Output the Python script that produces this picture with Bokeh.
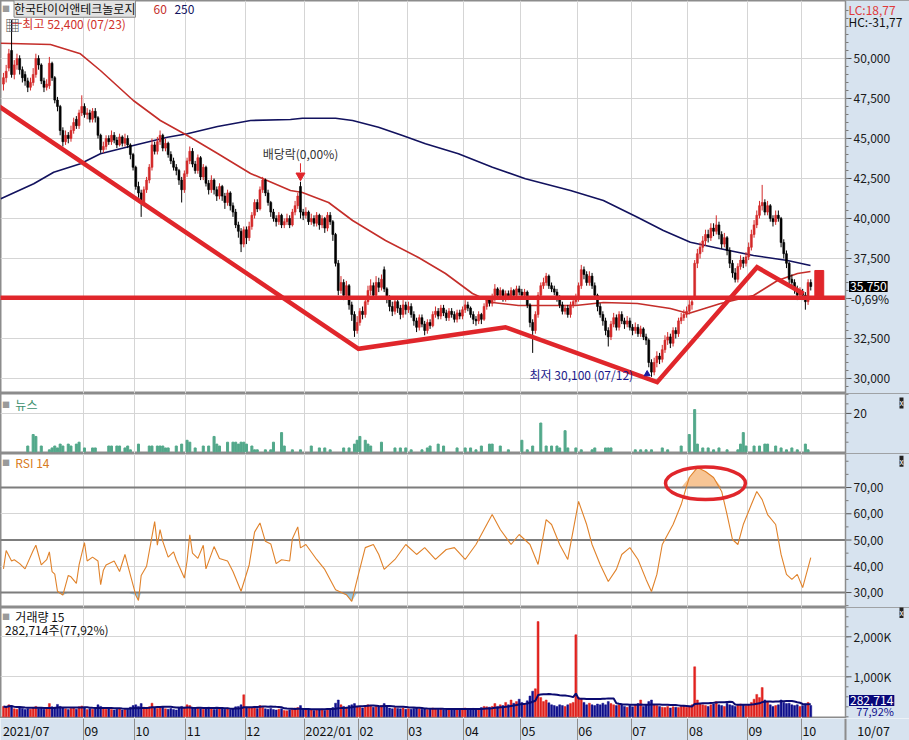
import numpy as np
import pandas as pd
from bokeh.plotting import figure
from bokeh.layouts import column
from bokeh.models import ColumnDataSource, FixedTicker, Span, Label, Range1d, BoxAnnotation
from bokeh.embed import file_html
from bokeh.resources import INLINE

FONT = "Noto Sans CJK KR"

# ---------------- data (prices in hundreds of KRW, volume in thousands) -------------
opens = [
 484,488,494,505,490,496,500,493,490,486, 482,485,490,500,496,486,482,483,497,488,
 474,470,455,448,452,450,455,462,458,466, 470,465,466,462,467,463,452,443,445,450,
 448,452,449,446,451,447,450,446,440,432, 420,416,410,418,424,432,446,442,448,452,
 444,447,440,436,432,430,424,418,428,436, 442,434,430,438,426,432,422,418,424,418,
 414,420,414,410,416,408,404,396,392,384, 393,388,395,402,410,406,418,424,416,410,
 404,400,398,402,396,398,400,396,404,408, 420,404,402,404,398,400,397,402,396,400,
 394,402,398,390,372,355,360,352,358,346, 340,330,335,342,340,348,355,358,352,360,
 357,368,356,350,345,342,348,344,340,346, 343,345,340,336,332,338,334,330,335,333,
 340,342,339,344,341,338,342,340,337,341, 339,343,346,344,340,337,336,340,337,345,
 349,347,350,356,352,355,350,353,351,355, 352,356,354,352,354,346,335,330,340,352,
 358,360,364,358,356,354,350,346,342,344, 340,346,348,350,358,368,365,360,364,358,
 352,345,340,336,330,326,334,338,332,340, 336,334,336,332,330,332,328,331,326,324,
 310,304,310,314,312,318,324,326,322,330, 328,336,338,340,342,346,350,372,378,382,
 386,390,388,394,392,396,390,384,388,380, 372,366,362,370,374,372,376,382,390,396,
 402,408,410,404,408,400,398,402,400,385, 378,372,362,360,356,352,354,352,348,360]
highs = [
 491,496,506,524,499,503,502,495,492,488, 488,494,503,502,497,488,487,501,498,489,
 476,471,457,455,454,458,463,464,468,477, 472,469,468,469,469,464,453,448,452,452,
 455,454,451,453,452,453,452,447,441,433, 423,418,420,426,434,450,448,451,455,453,
 450,448,442,438,434,431,426,430,438,445, 444,436,440,439,434,433,424,427,425,420,
 422,421,416,418,417,410,406,398,394,395, 395,398,404,412,412,420,426,425,418,411,
 406,402,404,403,400,403,402,406,411,416, 423,406,407,405,403,402,404,403,402,401,
 404,404,399,391,374,364,362,361,359,348, 342,339,344,345,350,358,362,360,364,363,
 365,370,357,352,348,351,350,346,349,348, 348,347,342,338,340,340,336,337,337,342,
 345,344,346,346,343,344,344,342,343,343, 345,349,348,345,342,339,342,341,347,351,
 351,353,359,357,357,356,355,355,357,356, 358,358,356,356,355,347,337,342,354,360,
 363,366,365,360,358,356,352,348,346,346, 348,350,353,360,371,370,367,367,366,360,
 353,347,342,338,332,336,341,340,342,342, 338,339,338,334,335,334,333,332,328,325,
 312,313,317,316,321,327,329,328,332,332, 338,341,343,345,349,351,374,381,385,389,
 393,393,397,397,402,398,392,391,389,382, 374,369,372,377,376,379,385,393,399,405,
 411,421,412,411,409,402,405,405,401,387, 380,373,365,362,358,357,356,354,362,362]
lows = [
 480,485,492,488,487,493,490,485,483,479, 480,483,488,493,484,479,480,481,486,472,
 467,452,445,446,447,448,453,456,456,464, 463,462,460,460,460,450,441,441,443,446,
 446,447,444,445,445,445,444,437,430,418, 413,401,408,416,422,430,440,440,446,442,
 442,438,434,430,427,421,410,416,426,434, 432,428,428,424,424,420,415,416,415,411,
 412,411,406,408,405,401,394,388,379,382, 384,386,393,400,404,405,416,414,408,401,
 398,395,396,394,394,396,394,395,402,406, 400,399,400,396,396,395,395,393,394,391,
 392,396,386,370,352,353,349,350,343,336, 326,328,333,337,338,346,352,350,350,354,
 355,354,347,342,339,340,341,337,338,340, 341,338,333,329,330,332,327,328,331,332,
 338,337,337,339,336,336,338,335,335,337, 337,341,342,338,334,333,334,334,336,343,
 345,345,348,350,350,348,348,349,349,350, 350,352,350,350,344,332,316,328,338,350,
 356,358,356,354,352,348,344,340,340,338, 338,344,346,348,356,362,358,358,356,350,
 342,338,333,327,320,324,332,330,330,334, 331,332,330,327,328,326,326,324,321,307,
 301,302,307,309,310,316,321,319,320,325, 326,334,336,338,340,343,349,369,375,379,
 383,385,386,389,390,387,381,382,377,369, 363,360,360,368,369,370,374,380,388,394,
 400,405,402,402,398,395,396,398,382,375, 369,359,357,353,349,350,349,343,346,355]
closes = [
 488,492,503,490,496,500,493,488,486,482, 485,490,500,496,486,482,484,497,488,474,
 470,455,448,452,450,455,460,458,466,470, 465,466,462,467,463,452,443,445,450,448,
 452,449,446,451,447,450,446,440,432,420, 416,410,418,424,432,446,442,448,452,444,
 447,440,436,432,430,424,418,428,436,442, 434,430,438,426,432,422,418,424,418,414,
 420,414,410,416,408,404,396,392,384,393, 388,395,402,410,406,418,424,416,410,404,
 400,398,402,396,398,400,396,404,408,414, 404,402,404,398,400,397,402,396,400,394,
 402,398,390,372,355,360,352,358,346,340, 330,335,342,340,348,355,358,352,360,357,
 362,356,350,345,342,348,344,340,346,343, 345,340,336,332,338,334,330,335,333,340,
 342,339,344,341,338,342,340,337,341,339, 343,346,344,340,337,336,340,337,345,349,
 347,350,356,352,355,350,353,351,355,352, 356,354,352,354,346,335,330,340,352,358,
 360,364,358,356,354,350,346,342,344,340, 346,348,350,358,368,365,360,364,358,352,
 345,340,336,330,326,334,338,332,340,336, 334,336,332,330,332,328,331,326,324,310,
 304,310,314,312,318,324,326,322,330,328, 336,338,340,342,346,348,372,378,382,386,
 390,388,394,392,396,390,384,388,380,372, 366,362,370,374,372,376,382,390,396,402,
 408,410,404,408,400,398,402,400,385,378, 372,362,360,356,352,354,352,348,360,357.5]
volumes_k = [
 260,230,300,280,200,190,240,210,180,200, 190,220,260,210,230,190,200,330,250,240,
 310,260,230,200,180,210,230,190,250,270, 220,180,200,190,210,300,260,220,190,200,
 180,170,190,200,170,180,190,240,280,300, 260,330,240,220,250,340,230,210,220,250,
 200,190,210,180,170,220,260,240,300,280, 220,200,230,210,190,200,240,210,180,190,
 200,210,190,220,180,200,250,260,300,550, 240,230,220,260,210,280,240,200,190,210,
 180,170,190,200,160,150,170,190,220,230, 280,200,180,190,170,160,180,170,190,160,
 200,180,230,340,420,300,260,240,280,300, 330,260,240,220,260,300,280,240,260,250,
 280,330,260,220,200,230,210,200,220,190, 200,190,210,230,200,190,210,180,190,220,
 200,190,210,180,170,200,190,180,200,190, 210,220,200,190,210,200,190,230,260,250,
 240,260,330,260,300,280,360,300,420,340, 380,440,360,330,400,520,640,700,2380,480,
 380,420,350,300,280,260,300,280,260,300, 330,360,2050,480,460,360,300,340,300,280,
 320,300,340,300,380,330,300,280,300,320, 260,240,280,250,300,330,420,260,300,380,
 420,300,280,260,240,230,260,220,250,240, 230,260,280,240,260,300,1250,420,330,300,
 280,260,300,320,380,300,280,260,340,300, 280,260,300,320,300,280,300,360,440,560,
 480,730,420,380,300,260,280,300,420,360, 330,340,300,280,300,260,280,320,360,283]

# moving averages (index, price in KRW)
ma60_x = [-1, 17.4, 28.5, 35.9, 48.1, 58.1, 68.1, 79.3, 91.5, 106.3, 110.7, 120.4, 129.3, 141.5,
          153.7, 163.7, 173.7, 181.1, 190.7, 211.9, 222.2, 234.8, 247, 253.7, 265.6, 277.8,
          286.7, 294.1, 298.9]
ma60_y = [50956, 50875, 50294, 49250, 47375, 46125, 45188, 44063, 42813, 41750, 41625, 41000,
          39875, 38625, 37563, 36563, 35313, 34750, 34563, 34563, 34750, 34688, 34375, 34063,
          34688, 35188, 36125, 36563, 36688]
ma250_x = [-1, 11.2, 18.6, 28.5, 35.9, 48.1, 60.7, 68.1, 79.3, 91.5, 106.3, 110.7, 123, 129.3,
           138.9, 147.8, 156.3, 168.5, 181.1, 193.3, 210, 222.2, 234.8, 244.4, 254.4, 265.6,
           277.8, 290.4, 298.9]
ma250_y = [41231, 42169, 42894, 43419, 44044, 44563, 45081, 45294, 45750, 46125, 46188, 46269,
           46269, 46125, 45706, 45188, 44669, 44044, 43206, 42481, 41750, 41125, 40081, 39250,
           38519, 38106, 37688, 37375, 37063]

# RSI 14 (index, value)
rsi_x = [0,1,3,4,6,8,11,12,14,16,17,18,19,20,22,24,25,27,28,30,31,33,35,36,37,38,41,43,45,46,
         49,50,51,53,56,57,58,59,61,63,64,67,68,69,70,72,74,75,78,80,83,85,88,91,93,95,97,99,
         101,103,106,107,109,110,112,116,119,123,127,129,131,134,137,139,141,145,149,153,156,
         160,164,167,171,175,178,181,184,188,191,195,198,201,203,206,209,213,216,218,221,224,
         227,229,232,235,238,240,242,244,248,251,254,257,260,263,266,268,270,272,274,277,279,
         281,283,286,288,290,292,294,296,297,299]
rsi_y = [39,46,42,42.5,41,39,46,48,40.5,42.5,45.5,38,37,30.5,29,36.5,36,33.5,40.5,49,42,43.5,
         42,33,38.5,40.5,42,38,44.5,40.5,29,27,36.5,40,57,48,54,49.5,43.5,45.5,42.5,35.5,42,
         52,45,43,48,39,47.5,43,42,38,30.5,40.5,53,56.5,49.5,48.5,41,42.5,42,50.5,55,47,48.3,
         42.6,38.8,31.1,29.2,26.6,35,47.1,48.3,44.5,38.8,42.6,48.3,44.5,47.1,42.6,46.4,47.1,
         42.6,48.3,54,59.7,54,48.3,52.1,48.3,40.7,57.8,55.9,48.3,42.6,64.7,55.9,48.3,40.7,
         34.2,38.8,44.5,47.1,42.6,35,30.4,36.9,48.3,55.9,63.5,73.8,77.6,76.1,73.8,68.5,59.7,
         50.2,48.3,55.9,63.5,68.5,65.4,59.7,55.9,44.5,36.9,35,36.9,31.9,35.7,43.3]

# news counts (index, count)
news_x = [9,11,12,14,17,18,19,20,21,22, 24,25,27,28,30,33,34,39,40,42, 43,45,46,47,50,54,55,57,58,59,
          60,61,64,66,68,69,71,74,76,78, 79,80,83,85,86,87,88,89,90,92, 93,94,97,99,100,103,104,107,110,114,
          117,119,121,126,128,130,131,132,134,135, 136,140,145,147,149,151,155,157,158,161,
          163,168,171,173,175,177,180,181,184,187, 192,194,196,199,201,203,205,206,208,209,
          212,214,218,219,223,224,225,234,236,238, 240,244,246,251,254,256,257,259,261,263,
          265,268,272,273,274,275,278,280,282,283, 286,288,290,292,294,297,298]
news_n = [3,9,8,3,1,2,3,2,4,3, 4,3,4,5,2,2,2,3,3,3, 3,2,3,1,4,3,3,3,3,3,
          2,2,3,4,6,5,2,3,3,8, 4,3,5,5,5,4,5,5,4,3, 1,1,1,1,5,10,3,1,1,3,
          2,2,1,2,2,4,6,8,6,4, 3,5,2,2,2,1,1,2,3,4,
          3,2,2,2,1,3,4,4,3,1, 6,1,3,15,3,3,3,2,11,2,
          2,1,1,2,2,2,2,1,1,1, 1,2,1,3,9,22,4,2,2,1,
          2,1,1,4,10,3,3,3,4,4, 3,2,1,2,1,4,1]

# hand-drawn trend lines (index, KRW)
trend_x = [-2, 131.5, 185.9, 242.1, 279.1, 296.3]
trend_y = [47050, 31856, 33206, 29770, 36956, 35292]
support_level = 35050

month_start = [30, 49, 68, 90, 112, 132, 150, 171, 192, 213, 233, 254, 276, 296]
month_labels = ["09", "10", "11", "12", "2022/01", "02", "03", "04", "05", "06", "07", "08", "09", "10"]
first_label = "2021/07"
last_date = "10/07"

price_ticks = [30000, 32500, 35000, 37500, 40000, 42500, 45000, 47500, 50000]
price_tick_labels = ["30,000", "32,500", "", "37,500", "40,000", "42,500", "45,000", "47,500", "50,000"]
rsi_ticks = [30, 40, 50, 60, 70]
vol_ticks = [1000, 2000]

# ---------------- derived ----------------
n = len(closes)
idx = np.arange(n)
o = np.array(opens, float) * 100
h = np.array(highs, float) * 100
l = np.array(lows, float) * 100
c = np.array(closes, float) * 100
vol = np.array(volumes_k, float)
up = c >= o
RED = "#e0262b"
CRED = "#d42a2a"
PANEL = "#d7e3ef"
GRID = "#d5d5d5"
cand_col = [CRED if u else "#000000" for u in up]
vol_col = ["#e0221e" if u else "#10108c" for u in up]
vol_ma = pd.Series(vol).rolling(15, min_periods=1).mean().values
grid_x = [m - 0.5 for m in month_start]

PX = 2.7                      # pixels per trading day
X0 = -1.1
XR = Range1d(X0, X0 + 909 / PX)
AX = X0 + 845 / PX            # position of the value axis


def lab(p, x, y, text, color="#111111", size="12px", align="left", bg=None, border=None, pad=0):
    p.add_layout(Label(x=x, y=y, text=text, text_color=color, text_font=FONT,
                       text_font_size=size, text_align=align, text_baseline="middle",
                       background_fill_color=bg, border_line_color=border, padding=pad))


def make_fig(frame_h, yr, ticks, minor, tick_labels, grid_ticks=None):
    p = figure(frame_width=909, frame_height=frame_h, x_range=XR, y_range=yr,
               toolbar_location=None, output_backend="svg", x_axis_location=None,
               y_axis_location=None, min_border=0, background_fill_color="white",
               border_fill_color=PANEL, outline_line_color="#8c8c8c", outline_line_width=2)
    p.xgrid.ticker = FixedTicker(ticks=grid_x)
    p.xgrid.grid_line_color = GRID
    p.ygrid.ticker = FixedTicker(ticks=ticks if grid_ticks is None else grid_ticks)
    p.ygrid.grid_line_color = GRID
    p.add_layout(BoxAnnotation(left=AX, fill_color=PANEL, fill_alpha=1, line_color=None,
                               level="underlay"))
    p.add_layout(Span(location=AX, dimension="height", line_color="#8c8c8c", line_width=1.5))
    p.segment(x0=[AX] * len(ticks), x1=[AX + 6 / PX] * len(ticks), y0=ticks, y1=ticks,
              line_color="#555555", line_width=1)
    p.segment(x0=[AX] * len(minor), x1=[AX + 3 / PX] * len(minor), y0=minor, y1=minor,
              line_color="#777777", line_width=1)
    for t, s in zip(ticks, tick_labels):
        if s:
            lab(p, AX + 8 / PX, t, s, color="#1a1a1a")
    return p


# ---------------- price panel ----------------
pp = make_fig(393, Range1d(29062, 53625), price_ticks, list(range(29500, 53500, 500)),
              price_tick_labels)
pp.line(ma250_x, ma250_y, line_color="#12125e", line_width=1.6)
pp.line(ma60_x, ma60_y, line_color="#c42e2a", line_width=1.6)
src = ColumnDataSource(dict(x=idx, o=o, h=h, l=l, c=c, top=np.maximum(o, c),
                            bot=np.minimum(o, c), col=cand_col))
pp.segment(x0="x", y0="l", x1="x", y1="h", source=src, line_color="col", line_width=1)
pp.vbar(x="x", width=0.72, top="top", bottom="bot", source=src, fill_color="col",
        line_color="col", line_width=0.6)
pp.segment(x0=[X0 - 1], x1=[AX], y0=[support_level], y1=[support_level], line_color=RED,
           line_width=4.5)
pp.line(trend_x, trend_y, line_color=RED, line_width=4.5, line_join="miter")
pp.quad(left=[300.5], right=[303.8], bottom=[support_level], top=[36750], fill_color=RED,
        line_color=RED)

# high / low / dividend markers
ih = int(np.argmax(h))
il = int(np.argmin(l))
pp.segment(x0=[ih], x1=[ih + 3.8], y0=[h[ih] - 200], y1=[h[ih] - 200], line_color=RED, line_width=1)
lab(pp, ih + 4.0, h[ih] - 200, "최고 52,400 (07/23)", color="#d0302a")
lab(pp, 3.3, 52100, "▦", color="#505050", size="15px", align="center")
pp.scatter(x=[il - 1.6], y=[l[il] + 180], marker="triangle", size=6, color="#1a1aa0")
lab(pp, il - 6.8, l[il] + 150, "최저 30,100 (07/12)", color="#1a1a8a", align="right")
idiv = 110
pp.segment(x0=[idiv], x1=[idiv], y0=[h[idiv] + 600], y1=[h[idiv] + 1150], line_color=RED, line_width=1)
pp.scatter(x=[idiv], y=[h[idiv] + 380], marker="inverted_triangle", size=9, color=RED)
lab(pp, idiv, h[idiv] + 1750, "배당락(0,00%)", color="#333333", align="center")

# title
lab(pp, 0.9, 53120, "■", color="#9a9a9a", size="8px", align="center")
lab(pp, 3.9, 53110, "한국타이어앤테크놀로지", color="#111111", bg="#e2e2e2", border="#8a8a8a", pad=0)
lab(pp, 55.6, 53090, "60", color="#c42e2a")
lab(pp, 63.3, 53090, "250", color="#12125e")
# right panel texts
lab(pp, AX + 1.1, 53090, "LC:18,77", color="#e03a3a")
lab(pp, AX + 1.1, 52340, "HC:-31,77", color="#111111")
lab(pp, AX + 1.3, c[-1], "35,750", color="white", bg="#000000", pad=1)
lab(pp, AX + 1.9, 35000, "-0,69%", color="#111111")

# ---------------- news panel ----------------
pn = make_fig(60, Range1d(-0.9, 30.4), [20], [5, 10, 15, 25, 30], ["20"])
pn.vbar(x=news_x, top=news_n, bottom=0, width=0.75, fill_color="#52a88a", line_color="#52a88a")
lab(pn, 0.95, 24.7, "■", color="#9a9a9a", size="8px", align="center")
lab(pn, 4.4, 24.7, "뉴스", color="#3c8f6e")
lab(pn, 332.6, 25.5, "x", color="white", bg="#222222", size="8px", align="center", pad=0)

# ---------------- RSI panel ----------------
pr = make_fig(154, Range1d(24.3, 82.95), rsi_ticks, [25, 35, 45, 55, 65, 75, 80],
              [f"{t},00" for t in rsi_ticks], grid_ticks=[40, 60])
ry = np.array(rsi_y)
pr.varea(x=rsi_x, y1=70, y2=np.maximum(ry, 70), fill_color="#f7c595")
pr.varea(x=rsi_x, y1=np.minimum(ry, 30), y2=30, fill_color="#9ccbe6")
pr.segment(x0=[X0 - 1] * 3, x1=[AX] * 3, y0=[30, 50, 70], y1=[30, 50, 70],
           line_color="#7d7d7d", line_width=2)
pr.line(rsi_x, rsi_y, line_color="#e0822a", line_width=1.1)
pr.ellipse(x=[260], y=[71.6], width=[29.6], height=[12.4], fill_color=None,
           line_color=RED, line_width=3.5)
lab(pr, 0.95, 79.5, "■", color="#9a9a9a", size="8px", align="center")
lab(pr, 4.4, 79.5, "RSI 14", color="#d77a22")
lab(pr, 332.6, 80.0, "x", color="white", bg="#222222", size="8px", align="center", pad=0)

# ---------------- volume panel ----------------
pv = make_fig(111, Range1d(-42, 2732), vol_ticks, list(range(0, 2750, 250)),
              ["1,000K", "2,000K"])
vsrc = ColumnDataSource(dict(x=idx, v=vol, col=vol_col))
pv.vbar(x="x", top="v", bottom=0, width=0.72, source=vsrc, fill_color="col", line_color="col",
        line_width=0.5)
pv.line(idx, vol_ma, line_color="#0a0a70", line_width=2)
lab(pv, 0.95, 2507, "■", color="#9a9a9a", size="8px", align="center")
lab(pv, 4.4, 2507, "거래량  15")
lab(pv, 0.6, 2182, "282,714주(77,92%)")
lab(pv, AX + 1.3, 405, "282,714", color="white", bg="#08087a", pad=1)
lab(pv, AX + 4.0, 150, "77,92%", color="#10108c", size="11px")
lab(pv, 332.6, 2607, "x", color="white", bg="#222222", size="8px", align="center", pad=0)

# ---------------- date strip ----------------
ps = figure(frame_width=909, frame_height=22, x_range=XR, y_range=Range1d(0, 1),
            toolbar_location=None, output_backend="svg", x_axis_location=None,
            y_axis_location=None, min_border=0, background_fill_color=PANEL,
            border_fill_color=PANEL, outline_line_color=None)
ps.xgrid.ticker = FixedTicker(ticks=grid_x)
ps.xgrid.grid_line_color = "#8e8e8e"
ps.ygrid.visible = False
ps.add_layout(Span(location=AX, dimension="height", line_color="#8c8c8c", line_width=2))
lab(ps, -0.2, 0.45, first_label, color="#111111", size="12.5px")
for m, t in zip(grid_x, month_labels):
    lab(ps, m + 0.4, 0.45, t, color="#111111", size="12.5px")
lab(ps, 316.2, 0.45, last_date, color="#111111", size="12.5px")

layout = column(pp, pn, pr, pv, ps, spacing=0)
open("out.html", "w").write(file_html(layout, INLINE))
